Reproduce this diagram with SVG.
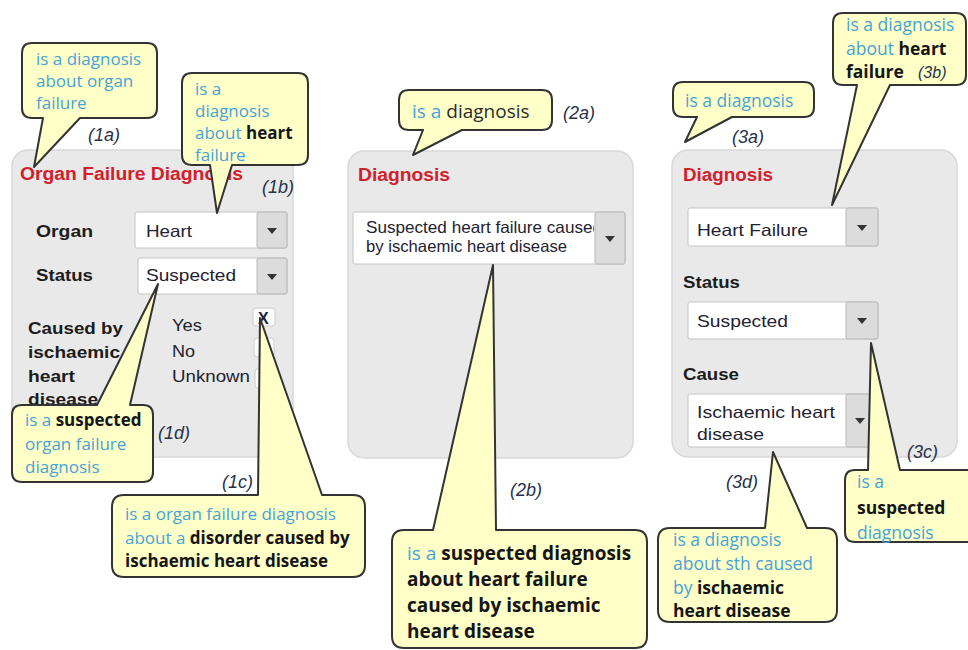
<svg xmlns="http://www.w3.org/2000/svg" width="968" height="650" viewBox="0 0 968 650">
  <style>
    .panel { fill: #e9e9e9; stroke: #d8d8d8; stroke-width: 1.5; }
    .title { font-family: "Liberation Sans", Arial, sans-serif; font-weight: bold; font-size: 17.5px; fill: #d2202b; }
    .lbl { font-family: "Liberation Sans", Arial, sans-serif; font-weight: bold; font-size: 17px; fill: #1c1c1c; }
    .val { font-family: "Liberation Sans", Arial, sans-serif; font-size: 16.5px; fill: #1f2230; }
    .box { fill: #ffffff; stroke: #c4c4c4; stroke-width: 1; }
    .btn { fill: #dcdcdc; stroke: #b8b8b8; stroke-width: 1; }
    .tri { fill: #333333; }
    .chk { fill: #fbfbfb; stroke: #cfcfcf; stroke-width: 1; }
    .bubble { fill: #ffffc8; stroke: #333333; stroke-width: 2; stroke-linejoin: round; }
    .ct { font-family: "Open Sans", "Liberation Sans", sans-serif; font-size: 17px; fill: #46a3d8; }
    .ct .b { font-weight: bold; fill: #151515; }
    .tag { font-family: "Liberation Sans", Arial, sans-serif; font-style: italic; font-size: 18px; fill: #273149; }
  </style>
  <defs>
    <clipPath id="clipSel2"><rect x="355" y="213" width="239" height="51"/></clipPath>
  </defs>

  <!-- form panels -->
  <g id="panel1">
    <rect class="panel" x="12" y="150" width="281" height="307" rx="16"/>
    <text class="title" x="20" y="180" textLength="223" lengthAdjust="spacingAndGlyphs">Organ Failure Diagnosis</text>
    <text class="lbl" x="36" y="237" textLength="57" lengthAdjust="spacingAndGlyphs">Organ</text>
    <text class="lbl" x="36" y="281" textLength="57" lengthAdjust="spacingAndGlyphs">Status</text>
    <g id="p1-organ">
      <rect class="box" x="135" y="212" width="152" height="36" rx="2"/>
      <rect class="btn" x="257" y="212" width="30" height="36" rx="2"/>
      <path class="tri" d="M267,228 h10 l-5,6 z"/>
      <text class="val" x="146" y="237" textLength="46" lengthAdjust="spacingAndGlyphs">Heart</text>
    </g>
    <g id="p1-status">
      <rect class="box" x="138" y="258" width="149" height="36" rx="2"/>
      <rect class="btn" x="257" y="258" width="30" height="36" rx="2"/>
      <path class="tri" d="M267,274 h10 l-5,6 z"/>
      <text class="val" x="146" y="281" textLength="90" lengthAdjust="spacingAndGlyphs">Suspected</text>
    </g>
    <text class="lbl" x="28" y="334" textLength="95" lengthAdjust="spacingAndGlyphs">Caused by</text>
    <text class="lbl" x="28" y="358" textLength="92" lengthAdjust="spacingAndGlyphs">ischaemic</text>
    <text class="lbl" x="28" y="382" textLength="47" lengthAdjust="spacingAndGlyphs">heart</text>
    <text class="lbl" x="28" y="405" textLength="70" lengthAdjust="spacingAndGlyphs">disease</text>
    <text class="val" x="172" y="331" textLength="30" lengthAdjust="spacingAndGlyphs">Yes</text>
    <text class="val" x="172" y="357" textLength="23" lengthAdjust="spacingAndGlyphs">No</text>
    <text class="val" x="172" y="382" textLength="78" lengthAdjust="spacingAndGlyphs">Unknown</text>
    <rect class="chk" x="253" y="308" width="22" height="18" rx="3"/>
    <text x="258" y="324" style="font-family:'Liberation Sans',Arial,sans-serif;font-weight:bold;font-size:16px;fill:#1d2540">X</text>
    <rect class="chk" x="254" y="338" width="20" height="19" rx="3"/>
    <rect class="chk" x="255" y="369" width="20" height="19" rx="3"/>
  </g>

  <g id="panel2">
    <rect class="panel" x="348" y="151" width="285" height="307" rx="16"/>
    <text class="title" x="358" y="181" textLength="92" lengthAdjust="spacingAndGlyphs">Diagnosis</text>
    <g id="p2-select">
      <rect class="box" x="353" y="212" width="272" height="52" rx="2"/>
      <rect class="btn" x="595" y="212" width="30" height="52" rx="2"/>
      <path class="tri" d="M605,236 h10 l-5,6 z"/>
      <g clip-path="url(#clipSel2)">
        <text class="val" x="366" y="233" textLength="236" lengthAdjust="spacingAndGlyphs">Suspected heart failure caused</text>
        <text class="val" x="366" y="252" textLength="201" lengthAdjust="spacingAndGlyphs">by ischaemic heart disease</text>
      </g>
    </g>
  </g>

  <g id="panel3">
    <rect class="panel" x="672" y="150" width="285" height="307" rx="16"/>
    <text class="title" x="683" y="181" textLength="90" lengthAdjust="spacingAndGlyphs">Diagnosis</text>
    <g id="p3-diag">
      <rect class="box" x="688" y="208" width="190" height="38" rx="2"/>
      <rect class="btn" x="846" y="208" width="32" height="38" rx="2"/>
      <path class="tri" d="M857,225 h10 l-5,6 z"/>
      <text class="val" x="697" y="236" textLength="111" lengthAdjust="spacingAndGlyphs">Heart Failure</text>
    </g>
    <text class="lbl" x="683" y="288" textLength="57" lengthAdjust="spacingAndGlyphs">Status</text>
    <g id="p3-status">
      <rect class="box" x="688" y="302" width="190" height="37" rx="2"/>
      <rect class="btn" x="846" y="302" width="32" height="37" rx="2"/>
      <path class="tri" d="M857,318 h10 l-5,6 z"/>
      <text class="val" x="697" y="327" textLength="91" lengthAdjust="spacingAndGlyphs">Suspected</text>
    </g>
    <text class="lbl" x="683" y="380" textLength="56" lengthAdjust="spacingAndGlyphs">Cause</text>
    <g id="p3-cause">
      <rect class="box" x="688" y="394" width="190" height="53" rx="2"/>
      <rect class="btn" x="846" y="394" width="32" height="53" rx="2"/>
      <path class="tri" d="M855,418 h10 l-5,6 z"/>
      <text class="val" x="697" y="418" textLength="138" lengthAdjust="spacingAndGlyphs">Ischaemic heart</text>
      <text class="val" x="697" y="440" textLength="67" lengthAdjust="spacingAndGlyphs">disease</text>
    </g>
  </g>

  <!-- speech-bubble annotations -->
  <g id="note-1a">
    <path class="bubble" d="M32,43 H147 Q157,43 157,53 V108 Q157,118 147,118 H80 L34,167 L43,118 H32 Q22,118 22,108 V53 Q22,43 32,43 Z"/>
    <text class="ct" x="36" y="65">is a diagnosis</text>
    <text class="ct" x="36" y="87">about organ</text>
    <text class="ct" x="36" y="109">failure</text>
    <text class="tag" x="88" y="141">(1a)</text>
  </g>

  <g id="note-1b">
    <path class="bubble" d="M192,73 H298 Q308,73 308,83 V155 Q308,165 298,165 H232 L217,213 L210,165 H192 Q182,165 182,155 V83 Q182,73 192,73 Z"/>
    <text class="ct" x="195" y="95">is a</text>
    <text class="ct" x="195" y="117">diagnosis</text>
    <text class="ct" x="195" y="139">about <tspan class="b">heart</tspan></text>
    <text class="ct" x="195" y="161">failure</text>
    <text class="tag" x="262" y="193">(1b)</text>
  </g>

  <g id="note-1d">
    <path class="bubble" d="M22,405 H97 L158,284 L130,405 H143 Q153,405 153,415 V472 Q153,482 143,482 H22 Q12,482 12,472 V415 Q12,405 22,405 Z"/>
    <text class="ct" x="25" y="426">is a <tspan class="b">suspected</tspan></text>
    <text class="ct" x="25" y="450">organ failure</text>
    <text class="ct" x="25" y="473">diagnosis</text>
    <text class="tag" x="158" y="439">(1d)</text>
  </g>

  <g id="note-1c">
    <path class="bubble" d="M124,495 H258 L260,318 L322,495 H353 Q365,495 365,507 V565 Q365,577 353,577 H124 Q112,577 112,565 V507 Q112,495 124,495 Z"/>
    <text class="ct" x="125" y="520">is a organ failure diagnosis</text>
    <text class="ct" x="125" y="544">about a <tspan class="b">disorder caused by</tspan></text>
    <text class="ct" x="125" y="567"><tspan class="b">ischaemic heart disease</tspan></text>
    <text class="tag" x="222" y="488">(1c)</text>
  </g>

  <g id="note-2a">
    <path class="bubble" d="M409,90 H542 Q552,90 552,100 V120 Q552,130 542,130 H462 L413,155 L423,130 H409 Q399,130 399,120 V100 Q399,90 409,90 Z"/>
    <text class="ct" x="412" y="118" style="font-size:19px">is a <tspan style="fill:#2b2b2b">diagnosis</tspan></text>
    <text class="tag" x="563" y="119">(2a)</text>
  </g>

  <g id="note-2b">
    <path class="bubble" d="M404,530 H433 L493,265 L496,530 H635 Q647,530 647,542 V636 Q647,648 635,648 H404 Q392,648 392,636 V542 Q392,530 404,530 Z"/>
    <text class="ct" x="407" y="560" style="font-size:19px">is a <tspan class="b">suspected diagnosis</tspan></text>
    <text class="ct" x="407" y="586" style="font-size:19px"><tspan class="b">about heart failure</tspan></text>
    <text class="ct" x="407" y="612" style="font-size:19px"><tspan class="b">caused by ischaemic</tspan></text>
    <text class="ct" x="407" y="638" style="font-size:19px"><tspan class="b">heart disease</tspan></text>
    <text class="tag" x="510" y="496">(2b)</text>
  </g>

  <g id="note-3a">
    <path class="bubble" d="M683,82 H804 Q814,82 814,92 V107 Q814,117 804,117 H732 L685,142 L697,117 H683 Q673,117 673,107 V92 Q673,82 683,82 Z"/>
    <text class="ct" x="685" y="107" style="font-size:17.5px">is a diagnosis</text>
    <text class="tag" x="732" y="143">(3a)</text>
  </g>

  <g id="note-3b">
    <path class="bubble" d="M843,13 H956 Q966,13 966,23 V75 Q966,85 956,85 H890 L832,205 L857,85 H843 Q833,85 833,75 V23 Q833,13 843,13 Z"/>
    <text class="ct" x="846" y="31" style="font-size:17.5px">is a diagnosis</text>
    <text class="ct" x="846" y="55" style="font-size:17.5px">about <tspan class="b">heart</tspan></text>
    <text class="ct" x="846" y="78" style="font-size:17.5px"><tspan class="b">failure</tspan></text>
    <text class="tag" x="918" y="78" style="font-size:16px">(3b)</text>
  </g>

  <g id="note-3c">
    <path class="bubble" d="M855,470 H868 L871,343 L900,470 H970 Q980,470 980,480 V532 Q980,542 970,542 H855 Q845,542 845,532 V480 Q845,470 855,470 Z"/>
    <text class="ct" x="857" y="488" style="font-size:17.5px">is a</text>
    <text class="ct" x="857" y="514" style="font-size:17.5px"><tspan class="b">suspected</tspan></text>
    <text class="ct" x="857" y="539" style="font-size:17.5px">diagnosis</text>
    <text class="tag" x="907" y="458">(3c)</text>
  </g>

  <g id="note-3d">
    <path class="bubble" d="M670,528 H765 L773,452 L807,528 H825 Q837,528 837,540 V610 Q837,622 825,622 H670 Q658,622 658,610 V540 Q658,528 670,528 Z"/>
    <text class="ct" x="673" y="546" style="font-size:17.5px">is a diagnosis</text>
    <text class="ct" x="673" y="570" style="font-size:17.5px">about sth caused</text>
    <text class="ct" x="673" y="594" style="font-size:17.5px">by <tspan class="b">ischaemic</tspan></text>
    <text class="ct" x="673" y="617" style="font-size:17.5px"><tspan class="b">heart disease</tspan></text>
    <text class="tag" x="726" y="488">(3d)</text>
  </g>

  <g id="connectors"/>
</svg>
